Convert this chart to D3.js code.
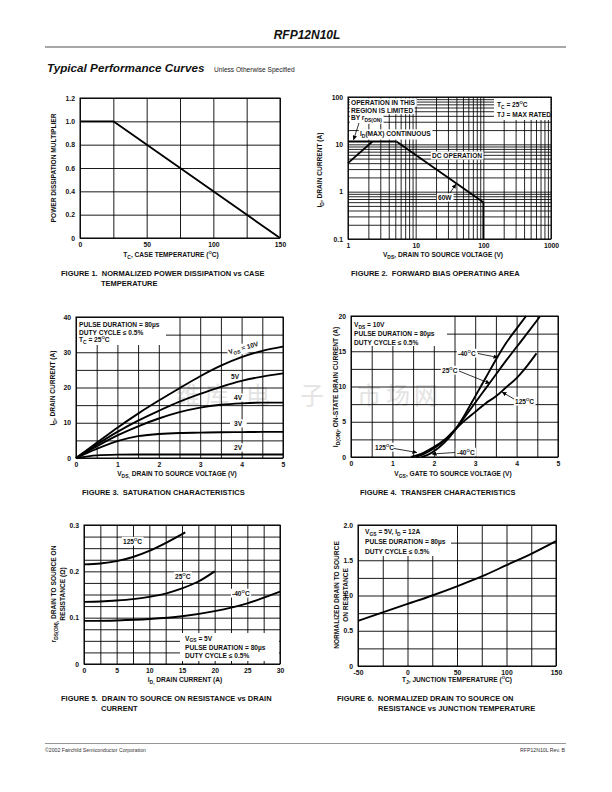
<!DOCTYPE html>
<html><head><meta charset="utf-8">
<script src="https://cdn.jsdelivr.net/npm/d3@7"></script>
<style>
body{margin:0;background:#fff}
svg{display:block}
text{font-family:"Liberation Sans",Arial,Helvetica,sans-serif;white-space:pre}
</style>
</head><body>
<svg id="page" width="612" height="792"></svg>
<script>
// ---------------- DATA ----------------
// Figure 1: normalized power dissipation vs case temperature
const fig1Temp = [0, 25, 150];
const fig1Mult = [1.0, 1.0, 0.0];
const fig1XGrid = [0, 25, 50, 75, 100, 125, 150];
const fig1YGrid = [0, 0.2, 0.4, 0.6, 0.8, 1.0, 1.2];
const fig1XTicks = [0, 50, 100, 150];
const fig1YTicks = [0, 0.2, 0.4, 0.6, 0.8, 1.0, 1.2];

// Figure 2: forward bias safe operating area (log-log)
const fig2RdsV = [1, 2.3];      const fig2RdsI = [4, 11.5];
const fig2MaxV = [1, 5.2];      const fig2MaxI = [11.5, 11.5];
const fig2PwrV = [5.2, 100];    const fig2PwrI = [11.5, 0.6];
const fig2BvV = [100, 100];     const fig2BvI = [0.6, 0.1];
const fig2XTicks = [1, 10, 100, 1000];
const fig2YTicks = [0.1, 1, 10, 100];

// Figure 3: saturation characteristics
const fig3Vds = [0, 0.5, 1, 1.5, 2, 2.5, 3, 3.5, 4, 4.5, 5];
const fig3Id10V = [0, 4.3, 8.6, 12.6, 16.3, 19.8, 23.2, 26.2, 28.6, 30.4, 31.6];
const fig3Id5V  = [0, 3.8, 7.4, 10.6, 13.4, 16.0, 18.2, 20.2, 21.9, 23.1, 24.0];
const fig3Id4V  = [0, 3.3, 6.4, 9.0, 11.2, 13.0, 14.3, 15.1, 15.5, 15.7, 15.7];
const fig3Id3V  = [0, 2.6, 4.8, 6.2, 6.8, 7.1, 7.2, 7.3, 7.35, 7.4, 7.4];
const fig3Id2V  = [0, 0.75, 0.95, 1.0, 1.0, 1.0, 1.0, 1.0, 1.0, 1.0, 1.0];
const fig3XGrid = [0, 0.5, 1, 1.5, 2, 2.5, 3, 3.5, 4, 4.5, 5];
const fig3YGrid = [0, 5, 10, 15, 20, 25, 30, 35, 40];
const fig3XTicks = [0, 1, 2, 3, 4, 5];
const fig3YTicks = [0, 10, 20, 30, 40];

// Figure 4: transfer characteristics
const fig4VgsM40 = [1.7, 1.85, 2, 2.25, 2.5, 2.75, 3, 3.25, 3.5, 3.75, 4, 4.23];
const fig4IdM40  = [0, 0.3, 0.8, 2.0, 3.7, 6.0, 8.6, 11.2, 13.8, 16.2, 18.2, 20];
const fig4Vgs25  = [1.57, 1.75, 2, 2.25, 2.5, 2.75, 3, 3.25, 3.5, 3.75, 4, 4.25, 4.56];
const fig4Id25   = [0, 0.4, 1.2, 2.3, 3.8, 5.7, 7.7, 9.7, 11.7, 13.7, 15.6, 17.5, 19.9];
const fig4Vgs125 = [1.45, 1.75, 2, 2.25, 2.5, 2.75, 3, 3.25, 3.5, 3.75, 4, 4.25, 4.48];
const fig4Id125  = [0, 0.6, 1.4, 2.4, 3.8, 5.2, 6.4, 7.6, 8.6, 9.9, 11.2, 12.9, 14.7];
const fig4XGrid = [0, 0.5, 1, 1.5, 2, 2.5, 3, 3.5, 4, 4.5, 5];
const fig4YGrid = [0, 2.5, 5, 7.5, 10, 12.5, 15, 17.5, 20];
const fig4XTicks = [0, 1, 2, 3, 4, 5];
const fig4YTicks = [0, 5, 10, 15, 20];

// Figure 5: on resistance vs drain current
const fig5Id125 = [0, 2.5, 5, 7.5, 10, 12.5, 15.5];
const fig5R125  = [0.215, 0.217, 0.222, 0.231, 0.244, 0.261, 0.284];
const fig5Id25  = [0, 2.5, 5, 7.5, 10, 12.5, 15, 17.5, 20];
const fig5R25   = [0.134, 0.135, 0.137, 0.140, 0.145, 0.152, 0.163, 0.178, 0.200];
const fig5IdM40 = [0, 5, 10, 15, 20, 25, 30];
const fig5RM40  = [0.093, 0.094, 0.097, 0.103, 0.114, 0.131, 0.156];
const fig5XGrid = [0, 2.5, 5, 7.5, 10, 12.5, 15, 17.5, 20, 22.5, 25, 27.5, 30];
const fig5YGrid = [0, 0.025, 0.05, 0.075, 0.1, 0.125, 0.15, 0.175, 0.2, 0.225, 0.25, 0.275, 0.3];
const fig5XTicks = [0, 5, 10, 15, 20, 25, 30];
const fig5YTicks = [0, 0.1, 0.2, 0.3];

// Figure 6: normalized on resistance vs junction temperature
const fig6Tj = [-50, -25, 0, 25, 50, 75, 100, 125, 150];
const fig6R  = [0.64, 0.76, 0.88, 1.0, 1.13, 1.27, 1.43, 1.59, 1.77];
const fig6XGrid = [-50, -25, 0, 25, 50, 75, 100, 125, 150];
const fig6YGrid = [0, 0.25, 0.5, 0.75, 1.0, 1.25, 1.5, 1.75, 2.0];
const fig6XTicks = [-50, 0, 50, 100, 150];
const fig6YTicks = [0, 0.5, 1.0, 1.5, 2.0];

// Watermark characters
const watermarkChars = ['维', '库', '电', '子', '市', '场', '网'];

// ---------------- DRAWING ----------------
const FONT = '"Liberation Sans", Arial, Helvetica, sans-serif';
const svg = d3.select('#page');
svg.append('rect').attr('width', 612).attr('height', 792).attr('fill', '#fff');
svg.append('defs').append('marker')
  .attr('id', 'arr').attr('viewBox', '0 0 10 10').attr('refX', 10).attr('refY', 5)
  .attr('markerWidth', 4.5).attr('markerHeight', 4.5).attr('markerUnits', 'userSpaceOnUse')
  .attr('orient', 'auto')
  .append('path').attr('d', 'M0,0 L10,5 L0,10 z').attr('fill', '#000');

const L = {};
['wm', 'grid', 'box', 'curve', 'frame', 'text'].forEach(n => L[n] = svg.append('g'));

function rich(sel, str, size) {
  const parts = str.split(/(_\{[^}]*\}|\^\{[^}]*\})/).filter(s => s.length);
  let shift = 0;
  parts.forEach(p => {
    let t = p, target = 0, fs = size;
    if (p.startsWith('_{')) { t = p.slice(2, -1); target = size * 0.3; fs = size * 0.75; }
    else if (p.startsWith('^{')) { t = p.slice(2, -1); target = -size * 0.4; fs = size * 0.65; }
    const ts = sel.append('tspan').attr('font-size', fs).text(t);
    if (target - shift !== 0) ts.attr('dy', target - shift);
    shift = target;
  });
}

function addText(x, y, str, o = {}) {
  const size = o.size || 6.6;
  const t = (o.layer || L.text).append('text')
    .attr('x', x).attr('y', y)
    .attr('font-size', size)
    .attr('font-weight', o.weight || 'bold')
    .attr('font-style', o.style || null)
    .attr('text-anchor', o.anchor || 'start')
    .attr('fill', o.fill || '#111')
    .attr('transform', o.transform || null);
  if (o.family) t.style('font-family', o.family);
  rich(t, str, size);
  if (o.bg) {
    const b = t.node().getBBox();
    const px = o.padX != null ? o.padX : 1.2, py = o.padY != null ? o.padY : 0.6;
    L.box.append('rect').attr('x', b.x - px).attr('y', b.y - py)
      .attr('width', b.width + 2 * px).attr('height', b.height + 2 * py)
      .attr('fill', '#fff').attr('transform', o.transform || null);
  }
  return t;
}

function arrow(x1, y1, x2, y2) {
  L.text.append('line').attr('x1', x1).attr('y1', y1).attr('x2', x2).attr('y2', y2)
    .attr('stroke', '#000').attr('stroke-width', 0.8).attr('marker-end', 'url(#arr)');
}

function panel(p) {
  const [xl, xr] = p.x.range(), [yb, yt] = p.y.range();
  const gw = p.gridW || 0.9;
  const gx = L.grid.append('g').attr('transform', `translate(0,${yb})`)
    .call(d3.axisBottom(p.x).tickValues(p.xGrid).tickSize(-(yb - yt)).tickFormat(''));
  const gy = L.grid.append('g').attr('transform', `translate(${xl},0)`)
    .call(d3.axisLeft(p.y).tickValues(p.yGrid).tickSize(-(xr - xl)).tickFormat(''));
  [gx, gy].forEach(g => {
    g.select('.domain').remove();
    g.selectAll('line').attr('stroke', '#000').attr('stroke-width', gw);
  });
  (p.boxes || []).forEach(b => L.box.append('rect').attr('x', b[0]).attr('y', b[1])
    .attr('width', b[2]).attr('height', b[3]).attr('fill', '#fff'));
  L.frame.append('rect').attr('x', xl).attr('y', yt).attr('width', xr - xl).attr('height', yb - yt)
    .attr('fill', 'none').attr('stroke', '#000').attr('stroke-width', 1);
  const tx = L.text.append('g').attr('transform', `translate(0,${yb})`)
    .call(d3.axisBottom(p.x).tickValues(p.xTicks).tickFormat(p.xFmt).tickSize(0).tickPadding(4.3));
  const ty = L.text.append('g').attr('transform', `translate(${xl},0)`)
    .call(d3.axisLeft(p.y).tickValues(p.yTicks).tickFormat(p.yFmt).tickSize(0).tickPadding(5));
  [tx, ty].forEach(g => {
    g.select('.domain').remove();
    g.attr('font-family', FONT).attr('font-size', 6.8).attr('font-weight', 'bold');
    g.selectAll('text').attr('fill', '#111');
  });
  p.curves.forEach(c => {
    const line = d3.line().x(d => p.x(d[0])).y(d => p.y(d[1])).curve(c.curve || d3.curveLinear);
    L.curve.append('path').attr('d', line(d3.zip(c.xs, c.ys)))
      .attr('fill', 'none').attr('stroke', '#000').attr('stroke-width', c.w || 1.9)
      .attr('stroke-linejoin', 'round');
  });
}

// ---------- header / footer ----------
addText(307, 39, 'RFP12N10L', { size: 12, style: 'italic', anchor: 'middle', fill: '#111' });
L.text.append('line').attr('x1', 45).attr('x2', 566).attr('y1', 47).attr('y2', 47)
  .attr('stroke', '#8a8a8a').attr('stroke-width', 1.6);
addText(47, 72, 'Typical Performance Curves', { size: 11.7, style: 'italic', fill: '#111' });
addText(214, 71.5, 'Unless Otherwise Specified', { size: 6.6, weight: 'normal', fill: '#222' });
L.text.append('line').attr('x1', 45).attr('x2', 566).attr('y1', 743.5).attr('y2', 743.5)
  .attr('stroke', '#8a8a8a').attr('stroke-width', 0.9);
addText(45, 752, '©2002 Fairchild Semiconductor Corporation', { size: 5.2, weight: 'normal', fill: '#333' });
addText(565, 752, 'RFP12N10L Rev. B', { size: 5.2, weight: 'normal', anchor: 'end', fill: '#333' });

// watermark (faint, behind the grids), placed clear of the chart labels
const wmX = [176, 205, 246, 300, 357, 386, 414];
watermarkChars.forEach((ch, i) => addText(wmX[i], 404, ch, {
  layer: L.wm, size: 24, weight: 'normal', fill: '#e3e3e3', family: '"Noto Sans CJK SC", sans-serif'
}));

// ---------- Figure 1 ----------
panel({
  x: d3.scaleLinear([0, 150], [80, 280]), y: d3.scaleLinear([0, 1.2], [238, 98]),
  xGrid: fig1XGrid, yGrid: fig1YGrid, xTicks: fig1XTicks, yTicks: fig1YTicks,
  xFmt: d => String(d), yFmt: d => d === 0 ? '0' : d.toFixed(1),
  curves: [{ xs: fig1Temp, ys: fig1Mult, w: 1.8 }]
});
addText(171, 257, 'T_{C}, CASE TEMPERATURE (^{O}C)', { anchor: 'middle' });
addText(0, 0, 'POWER DISSIPATION MULTIPLIER', { anchor: 'middle', transform: 'translate(56,168) rotate(-90)' });
addText(61, 276, 'FIGURE 1.  NORMALIZED POWER DISSIPATION vs CASE', { size: 7.5 });
addText(101, 286, 'TEMPERATURE', { size: 7.5 });

// ---------- Figure 2 ----------
{
  const grid = [];
  [1, 10, 100].forEach(d => { for (let k = 1; k < 10; k++) grid.push(k * d); });
  grid.push(1000);
  const ygrid = [];
  [0.1, 1, 10].forEach(d => { for (let k = 1; k < 10; k++) ygrid.push(+(k * d).toPrecision(3)); });
  ygrid.push(100);
  panel({
    x: d3.scaleLog([1, 1000], [348, 551]), y: d3.scaleLog([0.1, 100], [239, 97]),
    xGrid: grid, yGrid: ygrid, xTicks: fig2XTicks, yTicks: fig2YTicks, gridW: 0.85,
    xFmt: d => String(d), yFmt: d => String(d),
    boxes: [[494, 98, 56.5, 22]],
    curves: [
      { xs: fig2RdsV, ys: fig2RdsI, w: 1.8 },
      { xs: fig2MaxV, ys: fig2MaxI, w: 2 },
      { xs: fig2PwrV, ys: fig2PwrI, w: 1.8 },
      { xs: fig2BvV, ys: fig2BvI, w: 1.8 }
    ]
  });
  addText(351, 105, 'OPERATION IN THIS', { bg: true });
  addText(351, 112.6, 'REGION IS LIMITED', { bg: true });
  addText(351, 120.2, 'BY r_{DS(ON)}', { bg: true });
  addText(360, 136, 'I_{D}(MAX) CONTINUOUS', { bg: true });
  addText(432, 158, 'DC OPERATION', { bg: true });
  addText(438, 200, '60W', { bg: true });
  addText(497, 107, 'T_{C} = 25^{O}C');
  addText(497, 116.5, 'TJ = MAX RATED');
  arrow(359, 123, 353.5, 140);
  arrow(450, 193, 456, 184);
  addText(443, 257, 'V_{DS}, DRAIN TO SOURCE VOLTAGE (V)', { anchor: 'middle' });
  addText(0, 0, 'I_{D}, DRAIN CURRENT (A)', { anchor: 'middle', transform: 'translate(322,170) rotate(-90)' });
  addText(351, 276, 'FIGURE 2.  FORWARD BIAS OPERATING AREA', { size: 7.5 });
}

// ---------- Figure 3 ----------
panel({
  x: d3.scaleLinear([0, 5], [76, 283]), y: d3.scaleLinear([0, 40], [458, 317]),
  xGrid: fig3XGrid, yGrid: fig3YGrid, xTicks: fig3XTicks, yTicks: fig3YTicks,
  xFmt: d => String(d), yFmt: d => String(d),
  boxes: [[77, 318, 89, 27]],
  curves: [
    { xs: fig3Vds, ys: fig3Id10V, curve: d3.curveMonotoneX },
    { xs: fig3Vds, ys: fig3Id5V, curve: d3.curveMonotoneX },
    { xs: fig3Vds, ys: fig3Id4V, curve: d3.curveMonotoneX },
    { xs: fig3Vds, ys: fig3Id3V, curve: d3.curveMonotoneX },
    { xs: fig3Vds, ys: fig3Id2V, curve: d3.curveMonotoneX }
  ]
});
addText(79, 327, 'PULSE DURATION = 80µs');
addText(79, 334.5, 'DUTY CYCLE ≤ 0.5%');
addText(79, 342, 'T_{C} = 25^{O}C');
addText(0, 0, 'V_{GS} = 10V', { anchor: 'middle', bg: true, transform: 'translate(244,350) rotate(-16)' });
addText(231, 378.5, '5V', { bg: true, padX: 2 });
addText(234, 400, '4V', { bg: true, padX: 2 });
addText(234, 426, '3V', { bg: true, padX: 4 });
addText(234, 450, '2V', { bg: true, padX: 2 });
addText(177, 476, 'V_{DS,} DRAIN TO SOURCE VOLTAGE (V)', { anchor: 'middle' });
addText(0, 0, 'I_{D}, DRAIN CURRENT (A)', { anchor: 'middle', transform: 'translate(55,388) rotate(-90)' });
addText(82, 494.5, 'FIGURE 3.  SATURATION CHARACTERISTICS', { size: 7.5 });

// ---------- Figure 4 ----------
panel({
  x: d3.scaleLinear([0, 5], [351, 558]), y: d3.scaleLinear([0, 20], [457, 316]),
  xGrid: fig4XGrid, yGrid: fig4YGrid, xTicks: fig4XTicks, yTicks: fig4YTicks,
  xFmt: d => String(d), yFmt: d => String(d),
  boxes: [[352, 317, 95, 29]],
  curves: [
    { xs: fig4VgsM40, ys: fig4IdM40, curve: d3.curveMonotoneX },
    { xs: fig4Vgs25, ys: fig4Id25, curve: d3.curveMonotoneX },
    { xs: fig4Vgs125, ys: fig4Id125, curve: d3.curveMonotoneX }
  ]
});
addText(354, 327, 'V_{DS} = 10V');
addText(354, 336, 'PULSE DURATION = 80µs');
addText(354, 344.5, 'DUTY CYCLE ≤ 0.5%');
addText(458, 356, '-40^{O}C', { bg: true });
arrow(478, 353.5, 498, 357.5);
addText(442, 373, '25^{O}C', { bg: true });
arrow(459, 371, 490, 383.5);
addText(515, 404, '125^{O}C', { bg: true });
arrow(514, 399, 502, 392);
addText(375, 450, '125^{O}C', { bg: true });
arrow(394, 448.5, 417, 452.5);
addText(457, 455, '-40^{O}C', { bg: true });
arrow(455, 452.5, 432, 454);
addText(453, 476, 'V_{GS}, GATE TO SOURCE VOLTAGE (V)', { anchor: 'middle' });
addText(0, 0, 'I_{D(ON)}, ON-STATE DRAIN CURRENT (A)', { anchor: 'middle', transform: 'translate(338,387) rotate(-90)' });
addText(360, 494.5, 'FIGURE 4.  TRANSFER CHARACTERISTICS', { size: 7.5 });

// ---------- Figure 5 ----------
panel({
  x: d3.scaleLinear([0, 30], [84, 280]), y: d3.scaleLinear([0, 0.3], [664, 525]),
  xGrid: fig5XGrid, yGrid: fig5YGrid, xTicks: fig5XTicks, yTicks: fig5YTicks,
  xFmt: d => String(d), yFmt: d => d === 0 ? '0' : d.toFixed(1),
  boxes: [[180, 633, 99, 28]],
  curves: [
    { xs: fig5Id125, ys: fig5R125, curve: d3.curveMonotoneX },
    { xs: fig5Id25, ys: fig5R25, curve: d3.curveMonotoneX },
    { xs: fig5IdM40, ys: fig5RM40, curve: d3.curveMonotoneX }
  ]
});
addText(123, 544, '125^{O}C', { bg: true });
addText(175, 579, '25^{O}C', { bg: true });
addText(232, 596, '-40^{O}C', { bg: true });
addText(185, 640.5, 'V_{GS} = 5V');
addText(185, 649.5, 'PULSE DURATION = 80µs');
addText(185, 658, 'DUTY CYCLE ≤ 0.5%');
addText(185, 682, 'I_{D,} DRAIN CURRENT (A)', { anchor: 'middle' });
addText(0, 0, 'r_{DS(ON),} DRAIN TO SOURCE ON', { anchor: 'middle', transform: 'translate(56,594) rotate(-90)' });
addText(0, 0, 'RESISTANCE (Ω)', { anchor: 'middle', transform: 'translate(65,594) rotate(-90)' });
addText(61, 701, 'FIGURE 5.  DRAIN TO SOURCE ON RESISTANCE vs DRAIN', { size: 7.5 });
addText(101, 711, 'CURRENT', { size: 7.5 });

// ---------- Figure 6 ----------
panel({
  x: d3.scaleLinear([-50, 150], [358, 556]), y: d3.scaleLinear([0, 2], [666, 525]),
  xGrid: fig6XGrid, yGrid: fig6YGrid, xTicks: fig6XTicks, yTicks: fig6YTicks,
  xFmt: d => String(d), yFmt: d => d === 0 ? '0' : d.toFixed(1),
  boxes: [[359, 526, 92, 30]],
  curves: [{ xs: fig6Tj, ys: fig6R, curve: d3.curveMonotoneX }]
});
addText(365, 534, 'V_{GS} = 5V, I_{D} = 12A');
addText(365, 544, 'PULSE DURATION = 80µs');
addText(365, 553.5, 'DUTY CYCLE ≤ 0.5%');
addText(457, 682, 'T_{J}, JUNCTION TEMPERATURE (^{O}C)', { anchor: 'middle' });
addText(0, 0, 'NORMALIZED DRAIN TO SOURCE', { anchor: 'middle', transform: 'translate(339,595) rotate(-90)' });
addText(0, 0, 'ON RESISTANCE', { anchor: 'middle', transform: 'translate(348,595) rotate(-90)' });
addText(337, 701, 'FIGURE 6.  NORMALIZED DRAIN TO SOURCE ON', { size: 7.5 });
addText(378, 711, 'RESISTANCE vs JUNCTION TEMPERATURE', { size: 7.5 });
</script>
</body></html>
